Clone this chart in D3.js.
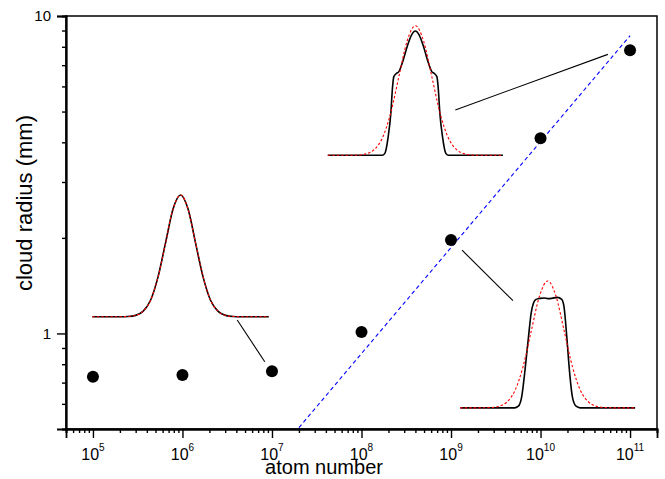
<!DOCTYPE html>
<html>
<head>
<meta charset="utf-8">
<script src="https://cdn.jsdelivr.net/npm/d3@7"></script>
<style>
  html, body { margin: 0; padding: 0; background: #fff; }
  svg { display: block; font-family: Arial, "Liberation Sans", sans-serif; }
</style>
</head>
<body>
<svg id="chart" width="665" height="479"></svg>
<script>
// ---------------- data ----------------
const atomNumbers = [1e5, 1e6, 1e7, 1e8, 1e9, 1e10, 1e11];
const cloudRadius = [0.73, 0.74, 0.76, 1.01, 1.97, 4.12, 7.8];

// N^(1/3) fit line (end points)
const fitN = [2e7, 1e11];
const fitR = [0.505, 8.67];

const xMajorTicks = [1e5, 1e6, 1e7, 1e8, 1e9, 1e10, 1e11];
const xTickExponents = ["5", "6", "7", "8", "9", "10", "11"];
const yMajorTicks = [1, 10];
const yTickLabels = ["1", "10"];

// inset profiles: [local position, normalized density]
const inset1Black = [[-50,0],[-34,0],[-29.8,0.002],[-25.5,0.011],[-21.3,0.044],[-17,0.135],[-12.8,0.325],[-8.5,0.607],[-4.3,0.882],[0,1],[4.3,0.882],[8.5,0.607],[12.8,0.325],[17,0.135],[21.3,0.044],[25.5,0.011],[29.8,0.002],[34,0],[50,0]];
const inset1Red   = [[-50,0],[-34,0],[-29.8,0.002],[-25.5,0.011],[-21.3,0.044],[-17,0.135],[-12.8,0.325],[-8.5,0.607],[-4.3,0.882],[0,1],[4.3,0.882],[8.5,0.607],[12.8,0.325],[17,0.135],[21.3,0.044],[25.5,0.011],[29.8,0.002],[34,0],[50,0]];

const inset2Black = [[-50,0],[-19,0],[-17.4,0.015],[-15.5,0.144],[-14.0,0.324],[-13.0,0.53],[-12.3,0.607],[-10.7,0.633],[-9.4,0.646],[-6.9,0.736],[-4.7,0.838],[-2.2,0.928],[0,0.959],[2.2,0.928],[4.7,0.838],[6.9,0.736],[9.4,0.646],[10.7,0.633],[12.3,0.607],[13.0,0.53],[14.0,0.324],[15.5,0.144],[17.4,0.015],[19,0],[50,0]];
const inset2Red   = [[-50,0],[-37.6,0],[-32.9,0.002],[-28.2,0.011],[-23.5,0.044],[-18.8,0.135],[-14.1,0.325],[-9.4,0.607],[-4.7,0.882],[0,1],[4.7,0.882],[9.4,0.607],[14.1,0.325],[18.8,0.135],[23.5,0.044],[28.2,0.011],[32.9,0.002],[37.6,0],[50,0]];

const inset3Black = [[-50,0],[-19,0],[-16.8,0.013],[-14.9,0.087],[-13.0,0.297],[-11.0,0.56],[-9.5,0.745],[-8.2,0.824],[-6.7,0.855],[-4.4,0.863],[-1.9,0.866],[0,0.861],[2.3,0.863],[5.5,0.871],[8.0,0.855],[9.3,0.797],[10.9,0.56],[12.4,0.297],[14.1,0.087],[16.2,0.013],[18.5,0],[50,0]];
const inset3Red   = [[-50,0],[-37.6,0],[-32.9,0.002],[-28.2,0.011],[-23.5,0.044],[-18.8,0.135],[-14.1,0.325],[-9.4,0.607],[-4.7,0.882],[0,1],[4.7,0.882],[9.4,0.607],[14.1,0.325],[18.8,0.135],[23.5,0.044],[28.2,0.011],[32.9,0.002],[37.6,0],[50,0]];

// ---------------- layout ----------------
const W = 665, H = 479;
const margin = { left: 66, top: 16, right: 8, bottom: 50 };

// inset anchoring in data space: [N left, N right, r baseline, r top]
const insetFrames = [
  { black: inset1Black, red: inset1Red, box: [9.85e4, 9.2e6, 1.129, 2.73] },
  { black: inset2Black, red: inset2Red, box: [4.2e7, 3.8e9, 3.64, 9.32] },
  { black: inset3Black, red: inset3Red, box: [1.27e9, 1.14e11, 0.583, 1.463] }
];
// connector lines in data space
const connectors = [
  [[4.09e6, 1.102], [8.31e6, 0.814]],
  [[1.117e9, 5.06], [5.65e10, 7.57]],
  [[1.327e9, 1.83], [4.92e9, 1.268]]
];

const svg = d3.select("#chart");

const x = d3.scaleLog().domain([5e4, 2e11]).range([margin.left, W - margin.right]);
const y = d3.scaleLog().domain([0.5, 10]).range([H - margin.bottom, margin.top]);

// minor ticks
const xMinor = [];
for (let e = 4; e <= 11; e++) for (let k = 2; k <= 9; k++) {
  const v = k * Math.pow(10, e);
  if (v >= 5e4 && v <= 2e11) xMinor.push(v);
}
const yMinor = [];
for (let e = -1; e <= 0; e++) for (let k = 2; k <= 9; k++) {
  const v = k * Math.pow(10, e);
  if (v >= 0.5 && v <= 10) yMinor.push(v);
}

// frame (top/right)
svg.append("rect")
  .attr("x", x.range()[0]).attr("y", y.range()[1])
  .attr("width", x.range()[1] - x.range()[0])
  .attr("height", y.range()[0] - y.range()[1])
  .attr("fill", "none").attr("stroke", "#000").attr("stroke-width", 1.5);

// x axis
const gx = svg.append("g").attr("transform", `translate(0,${y.range()[0]})`);
gx.call(d3.axisBottom(x).tickValues(xMinor).tickSize(4).tickFormat(() => ""));
gx.append("g").call(d3.axisBottom(x).tickValues(xMajorTicks).tickSize(9).tickFormat(() => ""));
gx.selectAll("path.domain").attr("stroke-width", 1.8);
gx.selectAll(".tick line").attr("stroke-width", 1.4);

const xl = svg.append("g").attr("font-size", 16).attr("fill", "#000");
xMajorTicks.forEach((v, i) => {
  const t = xl.append("text").attr("x", x(v)).attr("y", y.range()[0] + 31)
    .attr("text-anchor", "middle");
  t.append("tspan").text("10");
  t.append("tspan").attr("dy", -9).attr("font-size", 10).text(xTickExponents[i]);
});

// y axis
const gy = svg.append("g").attr("transform", `translate(${x.range()[0]},0)`);
gy.call(d3.axisLeft(y).tickValues(yMinor).tickSize(4).tickFormat(() => ""));
gy.append("g").call(d3.axisLeft(y).tickValues(yMajorTicks).tickSize(9).tickPadding(6)
  .tickFormat((d, i) => yTickLabels[i]));
gy.selectAll("path.domain").attr("stroke-width", 1.8);
gy.selectAll(".tick line").attr("stroke-width", 1.4);
gy.selectAll(".tick text").attr("font-size", 15).attr("font-family", "Arial, 'Liberation Sans', sans-serif").attr("fill", "#000");

// axis titles
svg.append("text").attr("x", 324).attr("y", 474).attr("text-anchor", "middle")
  .attr("font-size", 20).text("atom number");
svg.append("text").attr("transform", "translate(32,203) rotate(-90)")
  .attr("text-anchor", "middle").attr("font-size", 22).text("cloud radius (mm)");

// fit line
svg.append("path")
  .datum(fitN.map((n, i) => [n, fitR[i]]))
  .attr("d", d3.line().x(d => x(d[0])).y(d => y(d[1])))
  .attr("fill", "none").attr("stroke", "#0000ff").attr("stroke-width", 1.1)
  .attr("stroke-dasharray", "4,3");

// connectors
svg.append("g").selectAll("path").data(connectors).join("path")
  .attr("d", d3.line().x(d => x(d[0])).y(d => y(d[1])))
  .attr("stroke", "#000").attr("stroke-width", 1.1).attr("fill", "none");

// insets
insetFrames.forEach(f => {
  const [n0, n1, r0, r1] = f.box;
  const lx = d3.scaleLinear().domain([-50, 50]).range([x(n0), x(n1)]);
  const ly = d3.scaleLinear().domain([0, 1]).range([y(r0), y(r1)]);
  const line = d3.line().x(d => lx(d[0])).y(d => ly(d[1])).curve(d3.curveMonotoneX);
  svg.append("path").datum(f.black).attr("d", line)
    .attr("fill", "none").attr("stroke", "#000").attr("stroke-width", 1.6);
  svg.append("path").datum(f.red).attr("d", line)
    .attr("fill", "none").attr("stroke", "#ff0000").attr("stroke-width", 1.1)
    .attr("stroke-dasharray", "2.5,2");
});

// data points
svg.append("g").selectAll("circle").data(atomNumbers).join("circle")
  .attr("cx", d => x(d)).attr("cy", (d, i) => y(cloudRadius[i]))
  .attr("r", 6).attr("fill", "#000");
</script>
</body>
</html>
